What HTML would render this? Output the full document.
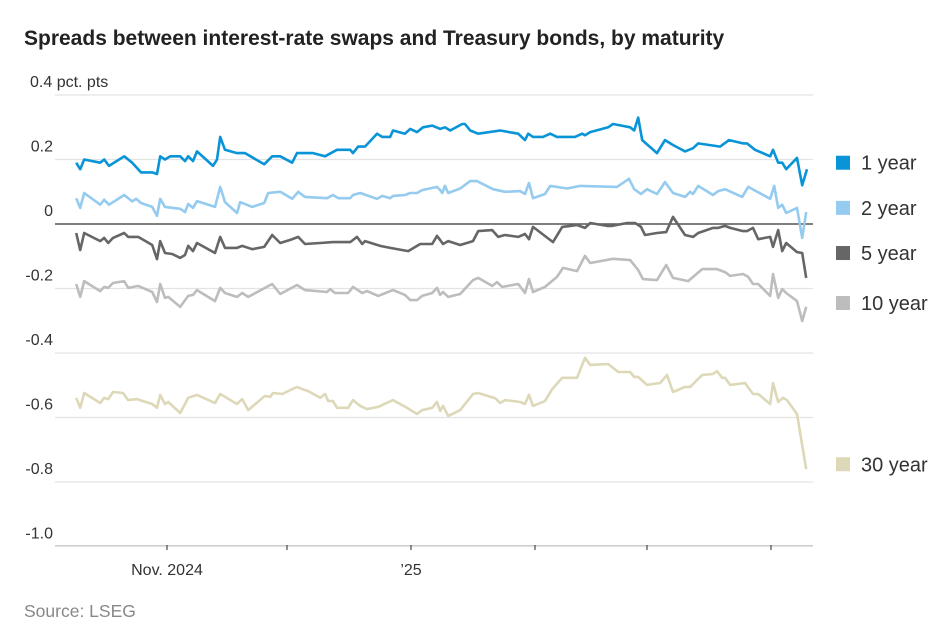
<!DOCTYPE html>
<html><head><meta charset="utf-8"><style>
body{margin:0;background:#fff;font-family:"Liberation Sans",sans-serif}
svg text{font-family:"Liberation Sans",sans-serif}
</style></head><body>
<svg id="chart" width="945" height="632" xmlns="http://www.w3.org/2000/svg">
<text x="24" y="45" font-size="21" font-weight="bold" fill="#222">Spreads between interest-rate swaps and Treasury bonds, by maturity</text>
<g id="grid"></g><g id="series"></g><g id="legend"></g>
<text x="24" y="617" font-size="17.5" fill="#888">Source: LSEG</text>
</svg>
<script>
const yTicks=[0.4,0.2,0,-0.2,-0.4,-0.6,-0.8,-1.0];
const yTickLabels=["0.4 pct. pts","0.2","0","-0.2","-0.4","-0.6","-0.8","-1.0"];
const xTickDays=[31,61,92,123,151,182];
const xTickLabels=["Nov. 2024","","’25","","",""];
const seriesNames=["1 year","2 year","5 year","10 year","30 year"];
const seriesColors=["#0a94d8","#94cbef","#666666","#bdbdbd","#ddd8b8"];
const legendValues=[0.19,0.05,-0.09,-0.245,-0.745];
const days1=[8.3,9.3,10.3,14.3,15.3,16.5,20.3,22.3,24.5,27.3,28.5,29.3,30.5,31.8,34.3,35.5,36.3,37.5,38.5,42.5,43.5,44.3,45.5,48.5,50.5,55.3,57.3,59.3,62.3,63.5,66,67.5,70.5,73.5,76.8,77.5,78.8,80.5,83.5,84.8,86.8,87.5,90.5,91.8,93.5,95,97.3,99.3,100.5,101.8,104.8,105.5,106.8,108.8,114.3,118.8,120.5,121.3,122.5,125,126.8,128.5,133,134.8,135.5,136.8,141.3,142.5,146.8,147.8,148.8,149.8,153.5,155.5,157.5,160.5,162.5,163.8,169.3,171.5,175,176,178,181.8,182.5,183.8,184.8,185.8,188.5,189.8,191];
const vals1=[.19,.17,.2,.19,.2,.18,.21,.19,.16,.16,.155,.21,.2,.21,.21,.195,.21,.195,.225,.18,.2,.27,.23,.22,.22,.185,.21,.21,.19,.22,.22,.22,.21,.23,.23,.22,.24,.24,.28,.27,.27,.29,.28,.295,.285,.3,.305,.295,.3,.29,.31,.31,.29,.28,.29,.28,.26,.28,.27,.27,.28,.27,.27,.28,.275,.285,.3,.31,.3,.29,.33,.26,.22,.26,.245,.225,.235,.25,.24,.26,.25,.25,.23,.21,.23,.19,.19,.17,.205,.12,.17];
const days2=[8.3,9.3,10.3,14.3,15.3,16.5,20.3,22.3,23.3,24.5,27.3,28.5,29.3,30.5,34.3,35.5,36.3,37.5,38.5,43,44.3,45.5,48.5,49.3,52.3,55.3,56.3,59.3,62.3,63.8,65.5,71,72.5,73.8,76.8,77.5,79.3,83.5,84.8,86.8,87.5,90.5,91.8,93.5,94.8,98.5,99.3,99.8,100.5,101.3,104.3,106.8,108.5,112.5,115.5,119.3,120.5,121.5,122.5,125.5,126.8,131,134.3,143.5,146.5,147.8,149.5,151,153.5,155.5,157.5,160.5,161.8,162.5,163.8,167.5,168.8,170.5,174.8,176.3,181.8,182.8,183.8,184.8,185.8,188.5,189.8,190.8];
const vals2=[.08,.05,.096,.06,.075,.06,.09,.07,.078,.065,.053,.025,.078,.053,.047,.037,.062,.05,.071,.053,.115,.068,.034,.068,.053,.065,.096,.1,.078,.1,.084,.08,.09,.08,.08,.09,.096,.078,.087,.08,.087,.09,.096,.096,.105,.115,.105,.096,.118,.096,.11,.133,.133,.108,.1,.102,.093,.127,.08,.093,.118,.11,.118,.115,.14,.108,.093,.108,.093,.13,.096,.084,.1,.093,.118,.09,.102,.108,.084,.115,.078,.118,.05,.06,.034,.05,-.043,.037];
const days5=[8.3,9.3,10.3,14.3,15.3,16.3,17.5,20.3,21.3,23.8,27.3,28.5,29.3,30.5,32.3,34.3,35.5,36.3,37.5,38.5,43,44.3,45.5,48.5,49.8,52.3,55.3,57.3,59.3,62.3,63.8,65.5,69.3,72.5,76.8,78.5,79.8,80.5,84.3,86.8,91.3,94.3,97.3,98.5,99.3,100,101.3,104.3,107.5,108.8,112.3,113.8,115.5,118.8,120.5,121.5,122.5,127.5,129.8,131.8,133.5,135.5,136.8,141,142.3,146,148,149.5,150.5,153.5,155.8,157.5,160.5,162.5,163.8,167.5,168.8,170.5,171.8,175,176,177.5,178.8,181.8,182.5,183.8,184.8,185.8,188.5,189.8,190.8];
const vals5=[-.028,-.081,-.028,-.053,-.043,-.059,-.043,-.028,-.04,-.04,-.065,-.109,-.053,-.09,-.093,-.105,-.096,-.068,-.084,-.059,-.09,-.04,-.074,-.074,-.068,-.078,-.071,-.034,-.059,-.047,-.04,-.062,-.059,-.056,-.056,-.04,-.062,-.053,-.068,-.074,-.084,-.062,-.062,-.037,-.05,-.062,-.053,-.065,-.053,-.022,-.019,-.04,-.034,-.04,-.031,-.047,-.009,-.056,-.009,-.006,-.003,-.012,.003,-.006,-.006,.003,.003,-.009,-.034,-.028,-.025,.022,-.034,-.04,-.028,-.012,-.012,-.006,-.012,-.022,-.022,-.012,-.047,-.04,-.071,-.019,-.084,-.059,-.087,-.09,-.167,-.105];
const days10=[8.3,9.3,10.3,14.3,15.3,16.3,17.5,20.3,21.3,23.8,27.3,28.5,29.3,30.5,31.3,34.3,36.3,37.5,38.5,43,44.3,45.5,48.5,49.8,51.3,57.3,59.3,63.5,65.5,71,71.8,73,76.3,77.5,79.8,81,83.8,87.5,90.5,91.8,93.5,94.8,97.3,98.5,99.3,100,101.3,104.3,107.5,108.8,112.3,113.5,114.8,118.8,120.5,121.5,122.5,125.5,128.5,130,133.5,135.5,136.8,142.5,146.8,148.8,150,153.5,155.8,157.5,161.3,164.8,168.5,170.5,171.8,175,176.3,177.5,178.8,181.8,182.5,183.8,184.8,185.8,188.5,189.8,190.8];
const vals10=[-.186,-.226,-.177,-.208,-.195,-.198,-.183,-.177,-.198,-.192,-.211,-.242,-.186,-.229,-.226,-.257,-.223,-.22,-.205,-.239,-.198,-.214,-.226,-.214,-.226,-.186,-.217,-.189,-.205,-.211,-.202,-.214,-.214,-.195,-.214,-.208,-.223,-.205,-.22,-.236,-.236,-.223,-.214,-.198,-.22,-.211,-.226,-.217,-.174,-.167,-.192,-.18,-.195,-.186,-.214,-.171,-.211,-.195,-.164,-.136,-.146,-.099,-.121,-.108,-.112,-.143,-.171,-.174,-.127,-.167,-.177,-.14,-.14,-.149,-.161,-.155,-.164,-.186,-.186,-.223,-.155,-.229,-.202,-.214,-.239,-.301,-.257];
const days30=[8.3,9.3,10.3,14.3,15.3,16.3,17.5,20,21.3,23.5,27.3,28.5,29.3,30.5,31.3,34.3,36.3,38.5,43,44.3,48.5,49.8,51.3,55.5,56.8,57.5,59.8,63.5,64.8,66.3,69.3,70.5,71.3,72.5,73.5,76.3,77.5,79.3,81,83.8,87.5,91,93.5,94.8,97.3,98.5,99.3,100,101.3,104.3,107.5,108.8,113,114.3,115.5,119.3,120.5,121.5,122.5,125.5,127.3,129.8,133.5,135.5,136.8,141.3,143.8,146.8,147.8,148.8,151,154.3,156,157.5,160.5,161.8,163.5,164.8,167.5,168.5,169.8,170.5,171.8,175.5,177.5,178.8,181.8,182.5,183.8,185,186,188.5,190.8];
const vals30=[-.539,-.57,-.524,-.555,-.539,-.543,-.521,-.524,-.546,-.543,-.558,-.57,-.53,-.558,-.552,-.586,-.539,-.53,-.555,-.527,-.558,-.543,-.577,-.533,-.536,-.524,-.527,-.505,-.512,-.518,-.539,-.527,-.549,-.549,-.57,-.57,-.546,-.564,-.574,-.567,-.546,-.57,-.589,-.577,-.57,-.552,-.58,-.564,-.595,-.577,-.527,-.524,-.54,-.555,-.546,-.552,-.558,-.53,-.564,-.549,-.512,-.477,-.477,-.415,-.437,-.434,-.459,-.459,-.474,-.474,-.499,-.493,-.468,-.521,-.505,-.505,-.484,-.468,-.465,-.456,-.477,-.477,-.499,-.493,-.527,-.527,-.558,-.493,-.552,-.539,-.546,-.589,-.76];
const allDays=[days1,days2,days5,days10,days30];
const allVals=[vals1,vals2,vals5,vals10,vals30];

const NS="http://www.w3.org/2000/svg";
const X0=55,X1=813;
function xScale(d){return 43+4*d;}
function yScale(v){return 224-v*322.5;}
function mk(tag,attrs,parent){const e=document.createElementNS(NS,tag);for(const k in attrs)e.setAttribute(k,attrs[k]);parent.appendChild(e);return e;}
const grid=document.getElementById('grid');
yTicks.forEach((t,i)=>{
  const y=yScale(t);
  if(t!==0){const l=mk('line',{x1:X0,x2:X1,y1:y,y2:y,stroke:'#e3e3e3','stroke-width':1.3},grid);
  
  }
  const tx=mk('text',{x:i===0?30:53,y:y-8,'font-size':16,fill:'#333','text-anchor':i===0?'start':'end'},grid);
  tx.textContent=yTickLabels[i];
  
  
});
const ax=mk('line',{x1:X0,x2:X1,y1:545.5,y2:545.5,stroke:'#ccc','stroke-width':1},grid);


xTickDays.forEach((d,i)=>{
  const x=xScale(d);
  const tk=mk('line',{x1:x,x2:x,y1:545,y2:550,stroke:'#555','stroke-width':1.3},grid);
  
  
  if(xTickLabels[i]){const tx=mk('text',{x:x,y:575,'font-size':16,fill:'#333','text-anchor':'middle'},grid);
  tx.textContent=xTickLabels[i];
  
  }
});
const ser=document.getElementById('series');
const leg=document.getElementById('legend');
allVals.forEach((vals,s)=>{
  const pts=vals.map((v,i)=>xScale(allDays[s][i]).toFixed(1)+','+yScale(v).toFixed(1)).join(' ');
  const p=mk('polyline',{points:pts,fill:'none',stroke:seriesColors[s],'stroke-width':2.6,'stroke-linejoin':'round'},ser);
  
  
  const ly=yScale(legendValues[s]);
  const r=mk('rect',{x:836,y:ly-7,width:14,height:14,fill:seriesColors[s]},leg);
  
  
  const t=mk('text',{x:861,y:ly+7,'font-size':20,fill:'#333'},leg);
  t.textContent=seriesNames[s];
  
  
});
const z=mk('line',{x1:X0,x2:X1,y1:224,y2:224,stroke:'#555','stroke-width':1.6},grid);


</script>
</body></html>
